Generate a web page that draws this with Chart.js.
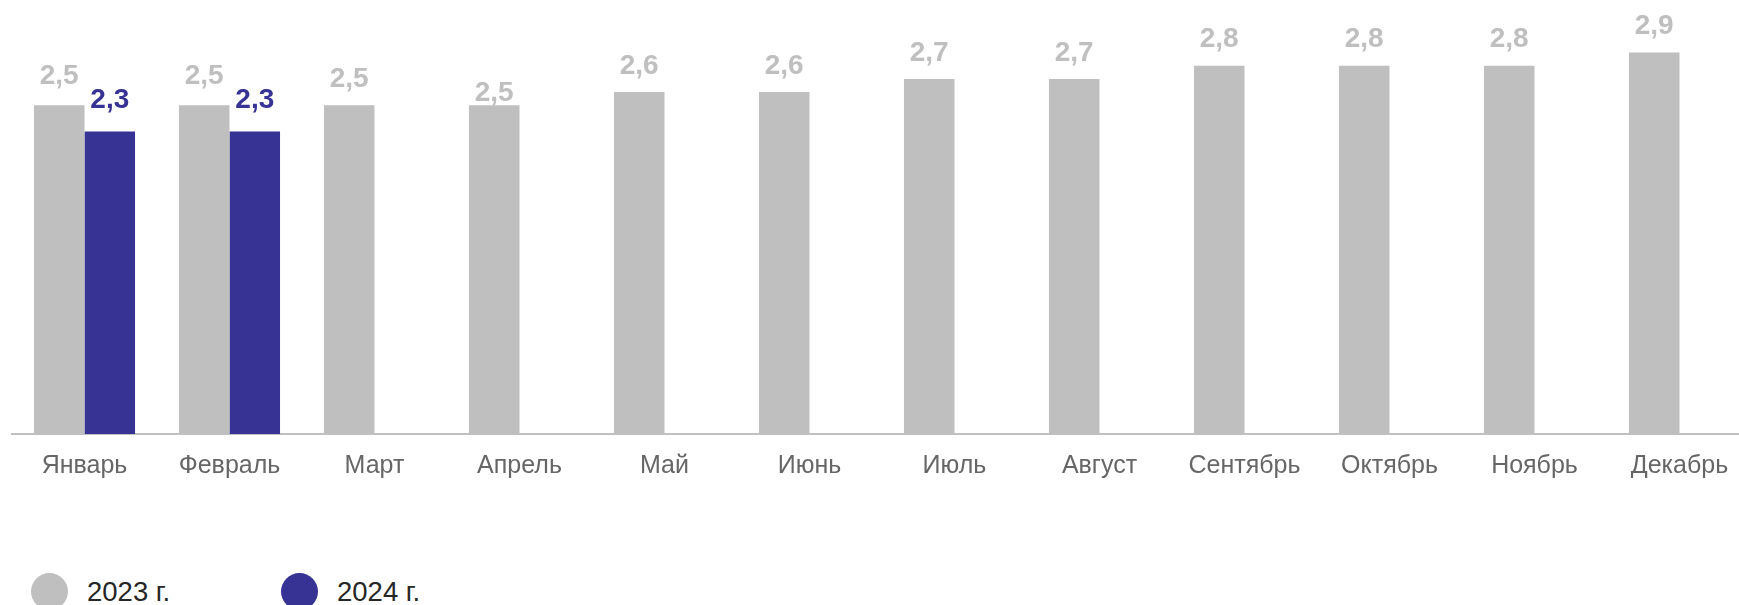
<!DOCTYPE html>
<html lang="ru">
<head>
<meta charset="utf-8">
<title>2023 / 2024</title>
<script src="https://cdn.jsdelivr.net/npm/chart.js@4.4.1/dist/chart.umd.min.js"></script>
<style>
  html, body { margin: 0; padding: 0; background: #fff; }
  #page { position: relative; width: 1739px; height: 605px; overflow: hidden; }
  #chartBox { position: absolute; left: 0; top: 0; width: 1764px; height: 490px; }
  .legend-item { position: absolute; top: 573px; display: flex; align-items: center; }
  .legend-dot { width: 37px; height: 37px; border-radius: 50%; }
  .legend-text { margin-left: 19px; font-family: "Liberation Sans", Arial, sans-serif; font-size: 27.5px; color: #262626; }
</style>
</head>
<body>
<div id="page">
  <div id="chartBox"><canvas id="chart"></canvas></div>
  <div id="legend"></div>
</div>
<script>
// Месяцы и значения
const months = ['Январь', 'Февраль', 'Март', 'Апрель', 'Май', 'Июнь', 'Июль', 'Август', 'Сентябрь', 'Октябрь', 'Ноябрь', 'Декабрь'];
const values2023 = [2.5, 2.5, 2.5, 2.5, 2.6, 2.6, 2.7, 2.7, 2.8, 2.8, 2.8, 2.9];
const values2024 = [2.3, 2.3, null, null, null, null, null, null, null, null, null, null];
const seriesNames = ['2023 г.', '2024 г.'];

const GRAY = '#bfbfbf';
const BLUE = '#363394';

// подписи значений над столбцами
const valueLabels = {
  id: 'valueLabels',
  afterDatasetsDraw(chart, args, opts) {
    const ctx = chart.ctx;
    ctx.save();
    ctx.font = 'bold 28px "Liberation Sans", Arial, sans-serif';
    ctx.textAlign = 'center';
    ctx.textBaseline = 'middle';
    chart.data.datasets.forEach((ds, di) => {
      const meta = chart.getDatasetMeta(di);
      meta.data.forEach((bar, i) => {
        const v = ds.data[i];
        if (v == null) return;
        let lift = opts.lift[di];
        if (di === 0 && opts.nudge[i] !== undefined) lift = opts.nudge[i];
        ctx.fillStyle = ds.backgroundColor;
        ctx.fillText(v.toFixed(1).replace('.', ','), bar.x, bar.y - lift);
      });
    });
    ctx.restore();
  }
};

document.addEventListener('DOMContentLoaded', () => {
  const ctx = document.getElementById('chart').getContext('2d');
  new Chart(ctx, {
    type: 'bar',
    data: {
      labels: months,
      datasets: [
        { label: seriesNames[0], data: values2023, backgroundColor: GRAY },
        { label: seriesNames[1], data: values2024, backgroundColor: BLUE }
      ]
    },
    options: {
      responsive: true,
      maintainAspectRatio: false,
      animation: false,
      layout: { padding: { left: 12, right: 12, top: 0, bottom: 0 } },
      datasets: {
        bar: { categoryPercentage: 0.697, barPercentage: 1, borderWidth: 0 }
      },
      plugins: {
        legend: { display: false },
        tooltip: { enabled: false },
        valueLabels: { lift: [26, 31], nudge: { 0: 29, 1: 29, 3: 12 } }
      },
      scales: {
        x: {
          grid: { display: false, drawTicks: false },
          border: { display: true, color: '#c0c0c0', width: 2 },
          ticks: {
            color: '#666666',
            padding: 17,
            font: { family: '"Liberation Sans", Arial, sans-serif', size: 25 }
          },
          afterFit: (scale) => { scale.height = 56; }
        },
        y: {
          display: false,
          min: 0,
          max: 3.3
        }
      }
    },
    plugins: [valueLabels]
  });

  // легенда
  const legendLeft = [31, 281];
  const colors = [GRAY, BLUE];
  document.getElementById('legend').innerHTML = seriesNames.map((name, i) => `
    <div class="legend-item" style="left:${legendLeft[i]}px">
      <div class="legend-dot" style="background:${colors[i]}"></div>
      <div class="legend-text">${name}</div>
    </div>
  `).join('');
});
</script>
</body>
</html>
